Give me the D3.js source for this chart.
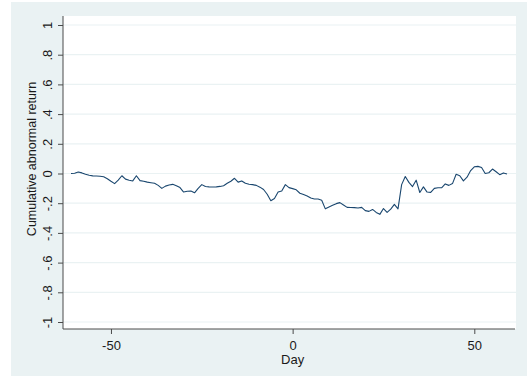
<!DOCTYPE html>
<html>
<head>
<meta charset="utf-8">
<script src="https://cdn.jsdelivr.net/npm/d3@7"></script>
<style>
  body { margin: 0; background: #ffffff; }
  text { font-family: "Liberation Sans", Arial, sans-serif; fill: #1a1a1a; }
</style>
</head>
<body>
<svg id="svg-board" width="527" height="379"></svg>
<script>
// days around the event and cumulative abnormal return per day
const days = d3.range(-61, 60);
const car = [
    0.000, 0.002, 0.010, 0.004, -0.005, -0.012, -0.016, -0.017, -0.019, -0.022,
    -0.035, -0.052, -0.068, -0.045, -0.015, -0.038, -0.046, -0.050, -0.015, -0.048,
    -0.052, -0.058, -0.062, -0.066, -0.080, -0.100, -0.085, -0.078, -0.073, -0.082,
    -0.095, -0.125, -0.120, -0.118, -0.130, -0.100, -0.075, -0.088, -0.090, -0.091,
    -0.090, -0.087, -0.082, -0.066, -0.052, -0.032, -0.058, -0.050, -0.066, -0.072,
    -0.075, -0.080, -0.092, -0.108, -0.140, -0.183, -0.168, -0.125, -0.118, -0.075,
    -0.095, -0.102, -0.110, -0.133, -0.142, -0.152, -0.165, -0.172, -0.172, -0.180,
    -0.238, -0.225, -0.214, -0.203, -0.196, -0.212, -0.228, -0.229, -0.230, -0.232,
    -0.228, -0.250, -0.255, -0.242, -0.262, -0.275, -0.236, -0.262, -0.240, -0.208,
    -0.238, -0.075, -0.020, -0.060, -0.088, -0.045, -0.128, -0.090, -0.125, -0.127,
    -0.100, -0.096, -0.096, -0.070, -0.080, -0.068, -0.005, -0.015, -0.050, -0.025,
    0.020, 0.045, 0.048, 0.040, 0.000, 0.005, 0.030, 0.012, -0.008, 0.004,
    -0.003
];
const xTicks = [-50, 0, 50];
const yTicks = [-1, -0.8, -0.6, -0.4, -0.2, 0, 0.2, 0.4, 0.6, 0.8, 1];
const yTitle = "Cumulative abnormal return";
const xTitle = "Day";

const bgColor = "#eaf2f3";
const lineColor = "#1a476f";
const axisColor = "#4a4a4a";

const plotLeft = 63, plotRight = 516, plotTop = 16, plotBottom = 329;

let xScale = d3.scaleLinear().domain([-63.2, 61.2]).range([plotLeft, 515]);
let yScale = d3.scaleLinear().domain([-1, 1]).range([322, 25]);

// stata style labels: .8 instead of 0.8, plain hyphen for minus
function fmt(v) {
    let s = String(+v.toFixed(1));
    return s.replace("0.", ".");
}

let svg = d3.select("#svg-board");

// outer graph region
svg.append("rect")
    .attr("x", 11).attr("y", 2)
    .attr("width", 516).attr("height", 374)
    .attr("fill", bgColor);

// plot region
svg.append("rect")
    .attr("x", plotLeft).attr("y", plotTop)
    .attr("width", plotRight - plotLeft).attr("height", plotBottom - plotTop)
    .attr("fill", "#ffffff");

// gridlines
svg.append("g").selectAll("line")
    .data(yTicks)
    .join("line")
    .attr("x1", plotLeft).attr("x2", plotRight)
    .attr("y1", d => yScale(d)).attr("y2", d => yScale(d))
    .attr("stroke", bgColor)
    .attr("stroke-width", 1.2);

// the series
let line = d3.line()
    .x((d, i) => xScale(days[i]))
    .y(d => yScale(d));

svg.append("path")
    .datum(car)
    .attr("d", line)
    .attr("fill", "none")
    .attr("stroke", lineColor)
    .attr("stroke-width", 1.1)
    .attr("stroke-linejoin", "round");

// y axis
let yAxis = svg.append("g")
    .attr("transform", `translate(${plotLeft},0)`)
    .call(d3.axisLeft(yScale).tickValues(yTicks).tickSize(5).tickFormat(fmt));
yAxis.select(".domain")
    .attr("d", `M0,${plotTop}V${plotBottom}`)
    .attr("stroke", axisColor);
yAxis.selectAll(".tick line").attr("stroke", axisColor);
yAxis.selectAll(".tick text")
    .attr("x", null).attr("dy", null)
    .attr("transform", "translate(-11,0) rotate(-90)")
    .attr("text-anchor", "middle")
    .attr("font-size", 13)
    .attr("font-family", "Liberation Sans, Arial, sans-serif")
    .attr("fill", "#1a1a1a");

// x axis
let xAxis = svg.append("g")
    .attr("transform", `translate(0,${plotBottom})`)
    .call(d3.axisBottom(xScale).tickValues(xTicks).tickSize(5).tickFormat(d => String(d)));
xAxis.select(".domain")
    .attr("d", `M${plotLeft},0H${plotRight - 1}`)
    .attr("stroke", axisColor);
xAxis.selectAll(".tick line").attr("stroke", axisColor);
xAxis.selectAll(".tick text")
    .attr("y", 21).attr("dy", null)
    .attr("font-size", 13)
    .attr("font-family", "Liberation Sans, Arial, sans-serif")
    .attr("fill", "#1a1a1a");

// axis titles
svg.append("text")
    .attr("transform", "translate(36,159) rotate(-90)")
    .attr("text-anchor", "middle")
    .attr("font-size", 12.5)
    .text(yTitle);

svg.append("text")
    .attr("x", xScale(0)).attr("y", 364)
    .attr("text-anchor", "middle")
    .attr("font-size", 13)
    .text(xTitle);
</script>
</body>
</html>
